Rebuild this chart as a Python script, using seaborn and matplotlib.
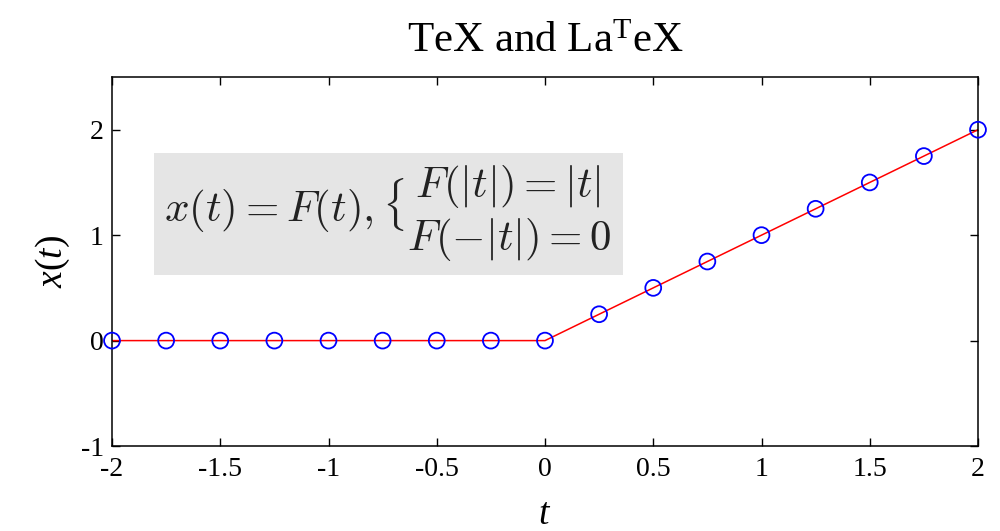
import matplotlib
matplotlib.use("Agg")
import matplotlib.pyplot as plt
import seaborn as sns
import pandas as pd

t_vals = [-2.0, -1.75, -1.5, -1.25, -1.0, -0.75, -0.5, -0.25, 0.0,
          0.25, 0.5, 0.75, 1.0, 1.25, 1.5, 1.75, 2.0]
x_vals = [0.0, 0.0, 0.0, 0.0, 0.0, 0.0, 0.0, 0.0, 0.0,
          0.25, 0.5, 0.75, 1.0, 1.25, 1.5, 1.75, 2.0]
xticks = [-2, -1.5, -1, -0.5, 0, 0.5, 1, 1.5, 2]
xtick_labels = ["-2", "-1.5", "-1", "-0.5", "0", "0.5", "1", "1.5", "2"]
yticks = [-1, 0, 1, 2]
ytick_labels = ["-1", "0", "1", "2"]

sns.set_style("ticks")
plt.rcParams["font.family"] = ["Liberation Serif", "DejaVu Serif"]
plt.rcParams["axes.unicode_minus"] = False
plt.rcParams["text.color"] = "black"
plt.rcParams["axes.labelcolor"] = "black"
plt.rcParams["xtick.color"] = "black"
plt.rcParams["ytick.color"] = "black"
plt.rcParams["mathtext.fontset"] = "custom"
plt.rcParams["mathtext.rm"] = "Liberation Serif"
plt.rcParams["mathtext.it"] = "Liberation Serif:italic"
plt.rcParams["mathtext.bf"] = "Liberation Serif:bold"

df = pd.DataFrame({"t": t_vals, "x": x_vals})

fig = plt.figure(figsize=(10, 5.31), dpi=100)
ax = fig.add_axes([0.112, 0.160, 0.866, 0.695])

sns.lineplot(data=df, x="t", y="x", ax=ax, color="red", linewidth=1.1)
sns.scatterplot(data=df, x="t", y="x", ax=ax, marker="o", s=130,
                facecolor="none", edgecolor="blue", linewidth=1.3, zorder=3,
                clip_on=False)

ax.set_xlim(-2, 2)
ax.set_ylim(-1, 2.5)
ax.set_xticks(xticks)
ax.set_xticklabels(xtick_labels)
ax.set_yticks(yticks)
ax.set_yticklabels(ytick_labels)
ax.tick_params(direction="in", length=6, width=1, top=True, right=True,
               labelsize=20, pad=8, colors="black")
ax.tick_params(axis="y", pad=6)
for s in ax.spines.values():
    s.set_visible(True)
    s.set_linewidth(1.1)
    s.set_color("black")

ax.set_xlabel("$t$", fontsize=27, labelpad=11)
ax.set_ylabel("$x(t)$", fontsize=27, labelpad=6)
ax.set_title("TeX and La$^\\mathrm{T}$eX", fontsize=31, pad=18)

ax.text(0.319, 0.629,
        r"$x(t) = F(t), \{\genfrac{}{}{0}{0}{F(|t|) = |t|}{F(-|t|) = 0}$",
        transform=ax.transAxes, ha="center", va="center", fontsize=31,
        math_fontfamily="cm", color="#222222",
        bbox=dict(boxstyle="square,pad=0.25", facecolor="#e5e5e5",
                  edgecolor="none"))

fig.savefig("out.png", dpi=100)
